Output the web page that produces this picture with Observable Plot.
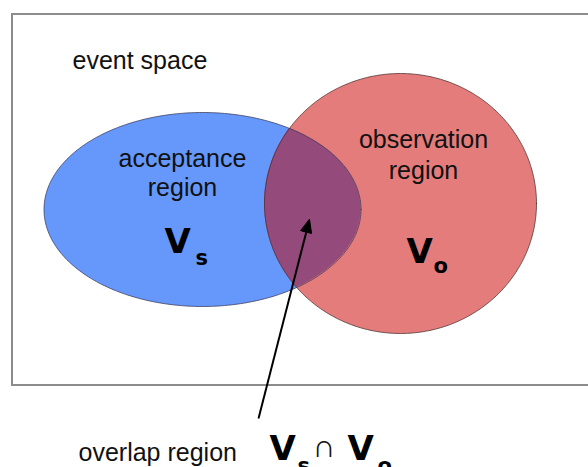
<!DOCTYPE html>
<html>
<head>
<meta charset="utf-8">
<script src="https://cdn.jsdelivr.net/npm/d3@7"></script>
<script src="https://cdn.jsdelivr.net/npm/@observablehq/plot@0.6"></script>
<style>
html, body { margin: 0; padding: 0; background: #fff; overflow: hidden; }
</style>
</head>
<body>
<div id="chart"></div>
<script>
// ---- Data: the event space and its two regions (diagram units) ----
const eventSpaceBox = [{x1: 12, x2: 600, y1: 14, y2: 385}];

const regionNames = ["acceptance region", "observation region"];
const regionCx = [202, 400];
const regionCy = [209, 203];
const regionRx = [158.5, 136];
const regionRy = [97, 130];

// labels
const labelTexts  = ["event space", "acceptance", "region", "observation", "region", "overlap region"];
const labelX      = [72, 182, 182, 423, 423, 78];
const labelY      = [68, 166, 195, 147, 178, 460];
const labelAnchor = ["start", "middle", "middle", "middle", "middle", "start"];

// symbol labels: main letter + subscript
const symMain = ["V", "V", "V", "V"];
const symMainX = [164, 406, 269, 347];
const symMainY = [252, 262, 459, 459];
const symSub = ["s", "o", "s", "o"];
const symSubX = [195, 433, 297, 377];
const symSubY = [264, 272, 472, 472];
const capSymbol = ["\u2229"];
const capX = [312];
const capY = [456];

// arrow pointing at the overlap
const arrowFrom = [258, 418];
const arrowTo = [309, 219];

// ---- Styles ----
const regionFill = ["#6598FA", "#E47C7C"];
const overlapFill = "#954A7C";
const sans = "Liberation Sans, Arial, Helvetica, sans-serif";
const bold = "DejaVu Sans, Verdana, sans-serif";

// ---- Geometry derived from the data ----
function ellipsePoints(i, n = 360) {
  return d3.range(n + 1).map(k => {
    const t = 2 * Math.PI * k / n;
    return {x: regionCx[i] + regionRx[i] * Math.cos(t), y: regionCy[i] + regionRy[i] * Math.sin(t), region: regionNames[i]};
  });
}
function halfSpan(i, x) {
  let dx = (x - regionCx[i]) / regionRx[i];
  dx = Math.max(-1, Math.min(1, dx));
  const h = regionRy[i] * Math.sqrt(1 - dx * dx);
  return [regionCy[i] - h, regionCy[i] + h];
}
const xa = regionCx[1] - regionRx[1];
const xb = regionCx[0] + regionRx[0];
const nOv = 300;
const overlap = d3.range(nOv + 1).map(k => {
  const x = xa + (xb - xa) * (1 - Math.cos(Math.PI * k / nOv)) / 2;
  const a = halfSpan(0, x), b = halfSpan(1, x);
  const top = Math.max(a[0], b[0]), bot = Math.min(a[1], b[1]);
  return {x, y1: top, y2: Math.max(top, bot)};
});

const ux = arrowTo[0] - arrowFrom[0], uy = arrowTo[1] - arrowFrom[1];
const len = Math.hypot(ux, uy);
const dx = ux / len, dy = uy / len;
const headL = 13, headW = 5.5;
const base = [arrowTo[0] - dx * headL, arrowTo[1] - dy * headL];
const arrowLine = [{x1: arrowFrom[0], y1: arrowFrom[1], x2: base[0] + dx * 2, y2: base[1] + dy * 2}];
const arrowHead = [
  {x: arrowTo[0], y: arrowTo[1]},
  {x: base[0] - dy * headW, y: base[1] + dx * headW},
  {x: base[0] + dy * headW, y: base[1] - dx * headW}
];

const labels = labelTexts.map((t, i) => ({text: t, x: labelX[i], y: labelY[i], anchor: labelAnchor[i]}));
const mains = symMain.map((t, i) => ({text: t, x: symMainX[i], y: symMainY[i]}));
const subs = symSub.map((t, i) => ({text: t, x: symSubX[i], y: symSubY[i]}));
const caps = capSymbol.map((t, i) => ({text: t, x: capX[i], y: capY[i]}));

const marks = [
  Plot.rect(eventSpaceBox, {x1: "x1", x2: "x2", y1: "y1", y2: "y2", fill: "white", stroke: "#8c8c8c", strokeWidth: 2}),
  Plot.line(ellipsePoints(0), {x: "x", y: "y", fill: regionFill[0], stroke: "none", curve: "linear-closed"}),
  Plot.line(ellipsePoints(1), {x: "x", y: "y", fill: regionFill[1], stroke: "none", curve: "linear-closed"}),
  Plot.area(overlap, {x1: "x", y1: "y1", y2: "y2", fill: overlapFill, stroke: "none"}),
  Plot.line(ellipsePoints(0), {x: "x", y: "y", stroke: "#3a3a5a", strokeOpacity: 0.75, strokeWidth: 1, curve: "linear-closed"}),
  Plot.line(ellipsePoints(1), {x: "x", y: "y", stroke: "#4a3030", strokeOpacity: 0.75, strokeWidth: 1, curve: "linear-closed"}),
  Plot.text(labels.filter(d => d.anchor === "start"), {x: "x", y: "y", text: "text", textAnchor: "start", lineAnchor: "bottom", fontSize: 25, fontFamily: sans, fill: "#111"}),
  Plot.text(labels.filter(d => d.anchor === "middle"), {x: "x", y: "y", text: "text", textAnchor: "middle", lineAnchor: "bottom", fontSize: 25, fontFamily: sans, fill: "#111"}),
  Plot.text(mains, {x: "x", y: "y", text: "text", textAnchor: "start", lineAnchor: "bottom", fontSize: 34, fontWeight: "bold", fontFamily: bold, fill: "#000"}),
  Plot.text(subs, {x: "x", y: "y", text: "text", textAnchor: "start", lineAnchor: "bottom", fontSize: 21, fontWeight: "bold", fontFamily: bold, fill: "#000"}),
  Plot.text(caps, {x: "x", y: "y", text: "text", textAnchor: "start", lineAnchor: "bottom", fontSize: 32, fontFamily: sans, fill: "#111"}),
  Plot.link(arrowLine, {x1: "x1", y1: "y1", x2: "x2", y2: "y2", stroke: "#000", strokeWidth: 2}),
  Plot.line(arrowHead, {x: "x", y: "y", fill: "#000", stroke: "#000", strokeWidth: 1, curve: "linear-closed"})
];

const chart = Plot.plot({
  width: 588,
  height: 467,
  margin: 0,
  x: {domain: [0, 588], range: [0, 588], axis: null},
  y: {domain: [0, 467], range: [0, 467], axis: null},
  style: {background: "white", overflow: "hidden"},
  marks
});
document.getElementById("chart").appendChild(chart);
</script>
</body>
</html>
